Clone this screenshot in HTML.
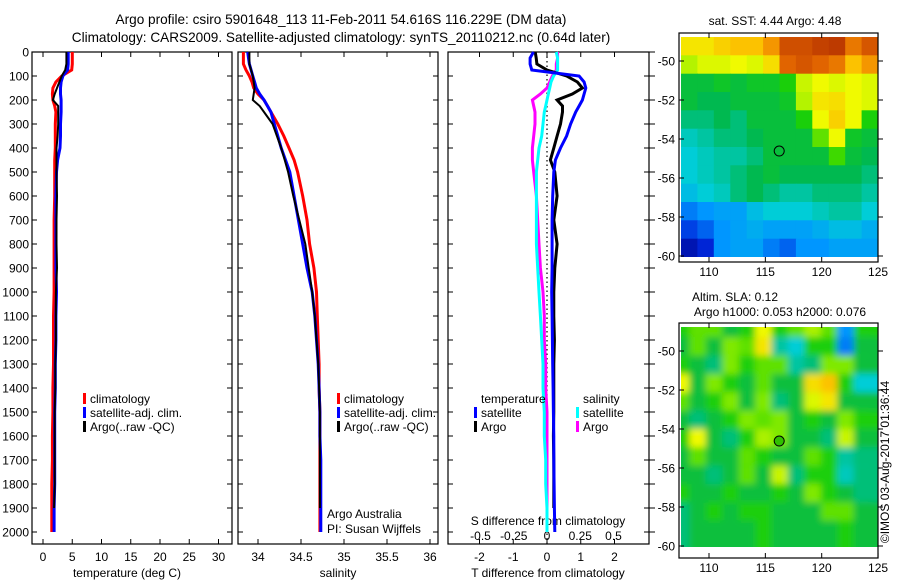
<!DOCTYPE html>
<html><head><meta charset="utf-8"><style>
html,body{margin:0;padding:0;background:#fff;}
svg{display:block;font-family:"Liberation Sans",sans-serif;}
</style></head><body>
<svg id="fig" width="900" height="580" viewBox="0 0 900 580" xmlns="http://www.w3.org/2000/svg">
<defs>
<clipPath id="cp1"><rect x="681" y="37" width="197" height="220"/></clipPath>
<clipPath id="cp2"><rect x="681" y="327" width="197" height="220"/></clipPath>
<filter id="blurS" x="-5%" y="-5%" width="110%" height="110%"><feGaussianBlur stdDeviation="3.5"/></filter>
</defs>
<text x="341" y="24" font-size="13.6" text-anchor="middle">Argo profile: csiro 5901648_113 11-Feb-2011 54.616S 116.229E (DM data)</text>
<text x="341" y="42" font-size="13.6" text-anchor="middle">Climatology: CARS2009. Satellite-adjusted climatology: synTS_20110212.nc (0.64d later)</text>
<g id="g"></g>
</svg>
<script>
// ---------- data ----------
const depths = [0,25,50,75,100,125,150,175,200,225,250,300,350,400,450,500,600,700,800,900,1000,1100,1200,1300,1400,1500,1600,1700,1800,1900,2000];
const tempClim = [5.0,5.0,5.0,4.9,3.2,2.2,1.7,1.6,1.7,2.0,2.2,2.1,2.1,2.1,2.0,2.0,2.0,1.9,1.9,1.9,1.9,1.8,1.8,1.8,1.7,1.7,1.6,1.6,1.5,1.5,1.5];
const tempSat = [4.3,4.3,4.3,4.2,3.4,3.1,3.0,3.0,3.1,3.1,3.1,3.0,3.0,2.9,2.5,2.3,2.2,2.2,2.2,2.2,2.3,2.2,2.2,2.1,2.1,2.0,2.0,2.0,2.0,1.9,1.9];
const tempArgo = [4.0,4.0,4.0,3.8,3.2,2.8,2.4,2.0,1.7,2.6,2.6,2.6,2.5,2.3,2.3,2.3,2.4,2.3,2.3,2.4,2.2,2.2,2.2,2.1,2.1,2.0,2.0,2.0,2.0,1.9,null];
const salClim = [33.83,33.83,33.83,33.86,33.9,33.93,33.95,34.0,34.07,34.11,34.15,34.23,34.3,34.36,34.42,34.46,34.52,34.57,34.6,34.65,34.68,34.69,34.7,34.71,34.71,34.72,34.72,34.72,34.72,34.72,34.72];
const salSat = [33.88,33.89,33.9,33.92,33.94,33.96,33.98,34.02,34.07,34.11,34.15,34.19,34.23,34.27,34.32,34.37,34.42,34.47,34.52,34.57,34.63,34.66,34.68,34.7,34.71,34.72,34.72,34.73,34.73,34.73,34.73];
const salArgo = [33.9,33.9,33.9,33.92,33.94,33.95,33.96,33.95,33.94,34.02,34.07,34.17,34.22,34.27,34.31,34.35,34.41,34.48,34.55,34.59,34.63,34.66,34.68,34.7,34.71,34.72,34.72,34.72,34.72,34.72,null];
const dtSat = [-0.4,-0.5,-0.5,-0.45,0.95,1.1,1.15,1.1,1.05,0.95,0.85,0.7,0.58,0.4,0.25,0.2,0.17,0.15,0.15,0.15,0.14,0.15,0.16,0.17,0.18,0.19,0.2,0.2,0.21,0.22,0.23];
const dtArgo = [-0.35,-0.32,-0.3,0.0,0.58,0.9,1.05,0.75,0.3,0.46,0.46,0.4,0.3,0.2,0.1,0.23,0.3,0.2,0.3,0.23,0.2,0.2,0.22,0.2,0.2,0.2,0.19,0.2,0.2,0.2,null];
const dsSat = [0.07,0.08,0.08,0.08,0.05,0.03,0.02,0.01,0.0,-0.01,-0.02,-0.03,-0.04,-0.06,-0.07,-0.08,-0.08,-0.08,-0.08,-0.07,-0.06,-0.05,-0.04,-0.03,-0.03,-0.02,-0.02,-0.01,-0.01,0.0,0.0];
const dsArgo = [0.08,0.08,0.07,0.07,0.04,0.02,0.0,-0.05,-0.11,-0.1,-0.09,-0.09,-0.1,-0.11,-0.11,-0.1,-0.08,-0.07,-0.06,-0.05,-0.03,-0.02,-0.02,-0.01,-0.01,0.0,0.0,0.0,0.0,0.0,null];
const depthTicks = [0,100,200,300,400,500,600,700,800,900,1000,1100,1200,1300,1400,1500,1600,1700,1800,1900,2000];
const tempTicks = [0,5,10,15,20,25,30];
const salTicks = [34,34.5,35,35.5,36];
const salTickLabels = ["34","34.5","35","35.5","36"];
const dtTicks = [-2,-1,0,1,2];
const dsTicks = [-0.5,-0.25,0,0.25,0.5];
const dsTickLabels = ["-0.5","-0.25","0","0.25","0.5"];
const lonTicks = [110,115,120,125];
const latTicks = [-50,-52,-54,-56,-58,-60];
const sstGrid = [
[0.75,0.75,0.78,0.8,0.8,0.85,0.93,0.93,0.95,0.96,0.88,0.92],
[0.66,0.7,0.7,0.72,0.7,0.76,0.9,0.92,0.9,0.88,0.8,0.85],
[0.5,0.5,0.52,0.5,0.52,0.52,0.55,0.68,0.72,0.7,0.72,0.7],
[0.5,0.48,0.48,0.5,0.5,0.5,0.52,0.66,0.75,0.76,0.72,0.7],
[0.45,0.45,0.48,0.45,0.5,0.5,0.5,0.55,0.72,0.78,0.72,0.55],
[0.4,0.42,0.45,0.45,0.48,0.5,0.5,0.5,0.6,0.72,0.52,0.5],
[0.38,0.4,0.42,0.42,0.45,0.5,0.5,0.5,0.5,0.58,0.5,0.48],
[0.38,0.4,0.42,0.45,0.48,0.5,0.48,0.48,0.48,0.48,0.48,0.45],
[0.35,0.38,0.4,0.45,0.48,0.45,0.42,0.42,0.45,0.45,0.45,0.42],
[0.25,0.28,0.3,0.3,0.35,0.38,0.38,0.38,0.4,0.42,0.42,0.38],
[0.18,0.22,0.28,0.3,0.32,0.3,0.3,0.3,0.32,0.35,0.35,0.32],
[0.08,0.14,0.28,0.3,0.3,0.25,0.22,0.28,0.28,0.3,0.3,0.3]];
const slaGrid = [
[0.55,0.6,0.6,0.5,0.55,0.72,0.55,0.6,0.65,0.6,0.28,0.55],
[0.5,0.6,0.5,0.62,0.6,0.75,0.42,0.38,0.55,0.55,0.25,0.5],
[0.55,0.5,0.45,0.62,0.55,0.6,0.6,0.42,0.45,0.62,0.62,0.5],
[0.72,0.5,0.62,0.55,0.5,0.6,0.5,0.5,0.76,0.8,0.55,0.38],
[0.6,0.5,0.55,0.62,0.5,0.62,0.45,0.5,0.7,0.75,0.5,0.5],
[0.5,0.45,0.5,0.55,0.62,0.6,0.62,0.5,0.55,0.5,0.62,0.55],
[0.55,0.72,0.5,0.45,0.55,0.65,0.62,0.5,0.5,0.45,0.68,0.5],
[0.5,0.6,0.5,0.5,0.6,0.55,0.5,0.5,0.6,0.55,0.42,0.45],
[0.5,0.5,0.45,0.5,0.6,0.5,0.68,0.45,0.55,0.55,0.4,0.45],
[0.55,0.5,0.5,0.55,0.5,0.5,0.55,0.5,0.62,0.55,0.5,0.45],
[0.45,0.5,0.55,0.5,0.55,0.55,0.5,0.5,0.5,0.6,0.6,0.5],
[0.45,0.5,0.5,0.5,0.5,0.55,0.5,0.5,0.5,0.5,0.55,0.5]];
const argoLon = 116.229, argoLat = -54.616;

// ---------- helpers ----------
const NS="http://www.w3.org/2000/svg";
const G=document.getElementById('g');
function mk(tag,attrs,parent){const e=document.createElementNS(NS,tag);for(const k in attrs)e.setAttribute(k,attrs[k]);(parent||G).appendChild(e);return e;}
function txt(s,x,y,size,anchor,parent){const t=mk('text',{x:x,y:y,'font-size':size,'text-anchor':anchor||'middle'},parent);t.textContent=s;return t;}
const yD = d => 52 + d*0.24;
const PB = 544;
const xT = v => 43 + v*5.85;
const xS = v => 258 + (v-34)*86;
const xDT = v => 547 + v*33.75;
const xDS = v => 547 + v*133;
function line(vals,xf,color,w,name){
  let d='';let pen=false;
  depths.forEach((dep,i)=>{const v=vals[i];if(v===null){pen=false;return;}
    d+=(pen?'L':'M')+xf(v).toFixed(1)+' '+yD(dep).toFixed(1);pen=true;});
  const p=mk('path',{d:d,fill:'none',stroke:color,'stroke-width':w,'stroke-linejoin':'miter'});
  
  
}
function panel(x0,x1,name){
  const r=mk('rect',{x:x0,y:52,width:x1-x0,height:PB-52,fill:'none',stroke:'#000','stroke-width':1.2});
  
  
  depthTicks.forEach(d=>{mk('line',{x1:x0,x2:x0+5,y1:yD(d),y2:yD(d),stroke:'#000'});mk('line',{x1:x1,x2:x1-5,y1:yD(d),y2:yD(d),stroke:'#000'});});
}
function xticks(ticks,labels,xf,y,name){
  ticks.forEach((t,i)=>{
    const x=xf(t);
    mk('line',{x1:x,x2:x,y1:52,y2:57,stroke:'#000'});
    mk('line',{x1:x,x2:x,y1:PB,y2:PB-5,stroke:'#000'});
    const l=txt(labels[i],x,y,12);
    
    
  });
}
// ---------- panel 1: temperature ----------
panel(32,232,'temperature-panel');
depthTicks.forEach(d=>{const l=txt(String(d),29,yD(d)+4.5,12,'end');
  
  });
xticks(tempTicks,tempTicks.map(String),xT,561,'temperature-tick-label');
txt('temperature (deg C)',127,577,12);
line(tempClim,xT,'#ff0000',3,'temp-climatology-line');
line(tempSat,xT,'#0000ff',3,'temp-satellite-line');
line(tempArgo,xT,'#000000',2,'temp-argo-line');
function legend(x,y,color,label,name){
  const b=mk('rect',{x:x,y:y-10,width:3,height:11,fill:color});
  
  
  const t=txt(label,x+7,y,12,'start');
  
  
}
legend(83,403,'#ff0000','climatology','legend-climatology');
legend(83,417,'#0000ff','satellite-adj. clim.','legend-satellite');
legend(83,431,'#000000','Argo(..raw -QC)','legend-argo');
// ---------- panel 2: salinity ----------
panel(238,438,'salinity-panel');
xticks(salTicks,salTickLabels,xS,561,'salinity-tick-label');
txt('salinity',338,577,12);
line(salClim,xS,'#ff0000',3,'sal-climatology-line');
line(salSat,xS,'#0000ff',3,'sal-satellite-line');
line(salArgo,xS,'#000000',2,'sal-argo-line');
legend(337,403,'#ff0000','climatology','legend2-climatology');
legend(337,417,'#0000ff','satellite-adj. clim.','legend2-satellite');
legend(337,431,'#000000','Argo(..raw -QC)','legend2-argo');
txt('Argo Australia',327,518,12,'start');
txt('PI: Susan Wijffels',327,533,12,'start');
// ---------- panel 3: differences ----------
panel(448,649,'difference-panel');
depthTicks.forEach(d=>{mk('line',{x1:649,x2:655,y1:yD(d),y2:yD(d),stroke:'#000'});});
xticks(dtTicks,dtTicks.map(String),xDT,561,'t-diff-tick-label');
dsTicks.forEach((t,i)=>{const l=txt(dsTickLabels[i],xDS(t),540,12);
  
  });
txt('S difference from climatology',548,525,12);
txt('T difference from climatology',548,577,12);
mk('line',{x1:xDT(0),x2:xDT(0),y1:52,y2:PB,stroke:'#000','stroke-width':1.2,'stroke-dasharray':'1.5 3'});
line(dsArgo,xDS,'#ff00ff',3,'s-diff-argo-line');
line(dsSat,xDS,'#00ffff',3,'s-diff-satellite-line');
line(dtArgo,xDT,'#000000',3,'t-diff-argo-line');
line(dtSat,xDT,'#0000ff',3,'t-diff-satellite-line');
txt('temperature',481,403,12,'start');
txt('salinity',583,403,12,'start');
legend(474,417,'#0000ff','satellite','legend3-t-satellite');
legend(474,431,'#000000','Argo','legend3-t-argo');
legend(576,417,'#00ffff','satellite','legend3-s-satellite');
legend(576,431,'#ff00ff','Argo','legend3-s-argo');
// ---------- maps ----------
const stops=[[0,[0,0,130]],[0.15,[0,40,220]],[0.28,[0,150,255]],[0.38,[0,205,215]],[0.48,[0,185,80]],[0.56,[30,210,0]],[0.64,[160,240,0]],[0.72,[240,250,0]],[0.82,[255,180,0]],[0.9,[225,100,0]],[1,[165,30,0]]];
function cmap(v){for(let i=1;i<stops.length;i++){if(v<=stops[i][0]){const a=stops[i-1],b=stops[i];const f=(v-a[0])/(b[0]-a[0]);const c=a[1].map((x,k)=>Math.round(x+(b[1][k]-x)*f));return 'rgb('+c.join(',')+')';}}return 'rgb(165,30,0)';}
function map(top,grid,clipId,blur,name,circleFill,labY){
  const x0=679,x1=878,lat50=top+28,pxLat=19.5;
  const xL=lon=>709+(lon-110)*11.27, yL=lat=>lat50+(-50-lat)*pxLat;
  const dataTop=top+4, dataBot=yL(-60)+1;
  const g=mk('g',{'clip-path':'url(#'+clipId+')'});
  
  
  const gi=mk('g',blur?{filter:'url(#blurS)'}:{},g);
  const nr=grid.length,nc=grid[0].length,cw=(x1-681)/nc,ch=(dataBot-dataTop)/nr;
  grid.forEach((row,r)=>row.forEach((v,c)=>{
    const cell=mk('rect',{x:(681+c*cw-(blur?8:0)).toFixed(1),y:(dataTop+r*ch-(blur?8:0)).toFixed(1),width:(cw+0.6+(blur?16:0)).toFixed(1),height:(ch+0.6+(blur?16:0)).toFixed(1),fill:cmap(v)},gi);
    
    
  }));
  const fr=mk('rect',{x:x0,y:top,width:x1-x0,height:labY-top-14,fill:'none',stroke:'#000','stroke-width':1.2});
  
  
  const fb=labY-14;
  lonTicks.forEach(l=>{const x=xL(l);mk('line',{x1:x,x2:x,y1:top,y2:top+5,stroke:'#000'});mk('line',{x1:x,x2:x,y1:fb,y2:fb-5,stroke:'#000'});
    const t=txt(String(l),x,labY,12);});
  latTicks.forEach(l=>{const y=yL(l);mk('line',{x1:x0,x2:x0+5,y1:y,y2:y,stroke:'#000'});mk('line',{x1:x1,x2:x1+5,y1:y,y2:y,stroke:'#000'});
    const t=txt(String(l),675,y+4.5,12,'end');});
  const c=mk('circle',{cx:xL(argoLon),cy:yL(argoLat),r:5,fill:circleFill,stroke:'#000','stroke-width':1});
  
  
}
map(33,sstGrid,'cp1',false,'sst-map','none',276);
map(323,slaGrid,'cp2',true,'sla-map','#30c000',572);
txt('sat. SST: 4.44 Argo: 4.48',775,25,12);
txt('Altim. SLA: 0.12',735,301,12);
txt('Argo h1000: 0.053 h2000: 0.076',780,316,12);
const cr=txt('©IMOS 03-Aug-2017 01:36:44',0,0,12);
cr.setAttribute('transform','translate(889,462) rotate(-90)');


</script>
</body></html>
